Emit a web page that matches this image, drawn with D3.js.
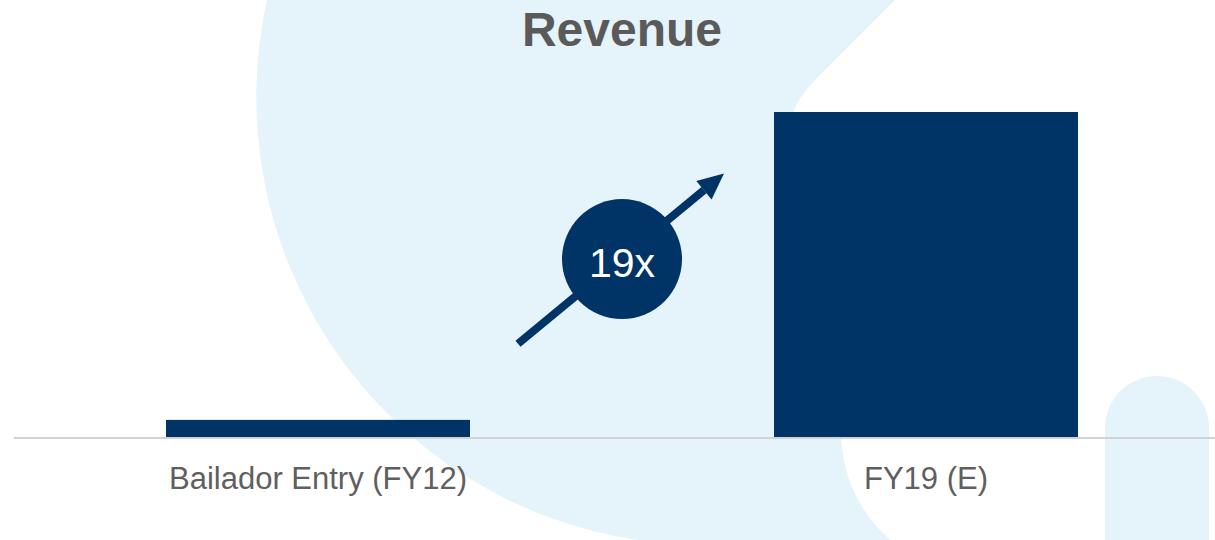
<!DOCTYPE html>
<html>
<head>
<meta charset="utf-8">
<script src="https://cdn.jsdelivr.net/npm/d3@7"></script>
<style>
  html, body { margin: 0; padding: 0; background: #fff; }
  svg { display: block; font-family: "Liberation Sans", Arial, Helvetica, sans-serif; }
</style>
</head>
<body>
<script>
// data
const categories = ["Bailador Entry (FY12)", "FY19 (E)"];
const revenue = [1, 19];
const multipleLabel = "19x";
const title = "Revenue";

const width = 1215, height = 540;
const baseY = 437, topY = 112;

const svg = d3.select("body").append("svg")
    .attr("width", width)
    .attr("height", height);

// background decoration
svg.append("path")
    .attr("d", "M267,0 A448,448 0 0 0 637,540 L890,540 C862,515 843,480 841,437 L792,130 " +
               "C790,112 798,98 815,80 L895,0 Z")
    .attr("fill", "#e5f3fb");

svg.append("path")
    .attr("d", "M1105,540 L1105,428 A52,52 0 0 1 1209,428 L1209,540 Z")
    .attr("fill", "#e5f3fb");

const x = d3.scaleBand()
    .domain(categories)
    .range([14, 1230])
    .paddingInner(0.5)
    .paddingOuter(0.25);

const y = d3.scaleLinear()
    .domain([0, d3.max(revenue)])
    .range([baseY, topY]);

// title
svg.append("text")
    .attr("x", 622)
    .attr("y", 46)
    .attr("text-anchor", "middle")
    .attr("font-size", 48)
    .attr("font-weight", "bold")
    .attr("fill", "#5a5a5a")
    .text(title);

// bars
svg.selectAll(".bar")
    .data(categories)
    .enter().append("rect")
    .attr("class", "bar")
    .attr("x", d => x(d))
    .attr("width", x.bandwidth())
    .attr("y", (d, i) => y(revenue[i]))
    .attr("height", (d, i) => baseY - y(revenue[i]))
    .attr("fill", "#013466");

// baseline
svg.append("line")
    .attr("x1", 14).attr("x2", width)
    .attr("y1", baseY + 1).attr("y2", baseY + 1)
    .attr("stroke", "#d2d2d2")
    .attr("stroke-width", 2);

// category labels
svg.selectAll(".cat")
    .data(categories)
    .enter().append("text")
    .attr("class", "cat")
    .attr("x", d => x(d) + x.bandwidth() / 2)
    .attr("y", 489)
    .attr("text-anchor", "middle")
    .attr("font-size", 31)
    .attr("fill", "#5f5f5f")
    .text(d => d);

// growth arrow + badge
const gx = (x(categories[0]) + x.bandwidth() + x(categories[1])) / 2;
const x0 = gx - 104, y0 = y(5.45);
const x1 = gx + 102, y1 = y(15.4);
const ang = Math.atan2(y1 - y0, x1 - x0);
const headLen = 26, headW = 12;
const bx = x1 - headLen * Math.cos(ang), by = y1 - headLen * Math.sin(ang);

svg.append("line")
    .attr("x1", x0).attr("y1", y0)
    .attr("x2", bx).attr("y2", by)
    .attr("stroke", "#013466")
    .attr("stroke-width", 8);

svg.append("path")
    .attr("d", d3.line()([
        [x1, y1],
        [bx + headW * Math.sin(ang), by - headW * Math.cos(ang)],
        [bx - headW * Math.sin(ang), by + headW * Math.cos(ang)]
    ]) + "Z")
    .attr("fill", "#013466");

svg.append("circle")
    .attr("cx", gx)
    .attr("cy", y(10.4))
    .attr("r", 60)
    .attr("fill", "#013466");

svg.append("text")
    .attr("x", gx)
    .attr("y", y(10.4) + 18)
    .attr("text-anchor", "middle")
    .attr("font-size", 41)
    .attr("fill", "#fff")
    .text(multipleLabel);
</script>
</body>
</html>
